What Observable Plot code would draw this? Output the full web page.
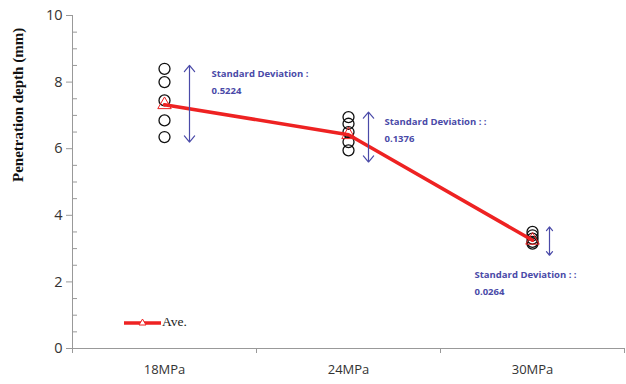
<!DOCTYPE html>
<html><head><meta charset="utf-8">
<script src="https://cdn.jsdelivr.net/npm/d3@7"></script>
<script src="https://cdn.jsdelivr.net/npm/@observablehq/plot@0.6"></script>
<style>
body{margin:0;background:#fff;}
#wrap{position:relative;width:626px;height:384px;}
#legend{position:absolute;left:124px;top:314px;font-family:"Liberation Serif",serif;font-size:13.5px;color:#222;display:flex;align-items:center;}
</style>
</head><body>
<div id="wrap"><div id="chart"></div>
<div id="legend"><svg width="38" height="14"><line x1="0" y1="8" x2="37" y2="8" stroke="#ee2222" stroke-width="3.5"/><path d="M18.5,4 L22,10 L15,10 Z" fill="white" stroke="#ee2222" stroke-width="1"/></svg><span>Ave.</span></div>
</div>
<script>
const categories = ["18MPa", "24MPa", "30MPa"];
const samples18 = [8.4, 8.0, 7.45, 6.85, 6.35];
const samples24 = [6.95, 6.75, 6.5, 6.2, 5.95];
const samples30 = [3.5, 3.4, 3.3, 3.2, 3.15];
const averages = [7.32, 6.42, 3.25];
const stdDevs = ["0.5224", "0.1376", "0.0264"];
const sdTitles = ["Standard Deviation :", "Standard Deviation : :", "Standard Deviation : :"];
const arrowTop = [8.5, 7.1, 3.65];
const arrowBottom = [6.2, 5.6, 2.8];
const yTicks = [0, 2, 4, 6, 8, 10];

const xPos = i => i + 0.5;
const samples = [samples18, samples24, samples30];
const dots = samples.flatMap((arr, i) => arr.map(v => ({x: xPos(i), y: v})));
const aves = averages.map((v, i) => ({x: xPos(i), y: v}));
const arrows = categories.map((c, i) => ({x: xPos(i), top: arrowTop[i], bot: arrowBottom[i], mid: (arrowTop[i] + arrowBottom[i]) / 2}));
const minor = d3.range(0, 10.01, 0.5).filter(v => v % 2 !== 0);
const bounds = d3.range(0, categories.length + 1);

const blue = "#4a4aa8";
const arrowDx = [25, 20, 17];
const textDx = [47, 36, -58];
const textAnchorY = [arrowTop[0], arrowTop[1], arrowBottom[2]];
const textDy = [15, 16, 26];

const plot = Plot.plot({
  width: 626, height: 384,
  marginLeft: 72, marginRight: 2, marginTop: 15, marginBottom: 36,
  x: {type: "linear", domain: [0, categories.length], axis: null},
  y: {domain: [0, 10], axis: null},
  style: {background: "white", overflow: "visible"},
  marks: [
    Plot.ruleY([0], {stroke: "#999", strokeWidth: 1}),
    Plot.ruleX([0], {stroke: "#999", strokeWidth: 1}),
    Plot.axisY({ticks: yTicks, tickSize: 6, tickPadding: 4, stroke: "#999", fontSize: 14.5, color: "#333", fontFamily: "Open Sans, sans-serif", label: null}),
    Plot.axisY({ticks: minor, tickSize: -5, tickFormat: () => "", stroke: "#999", label: null}),
    Plot.axisX({ticks: bounds, tickSize: 5, tickFormat: () => "", stroke: "#999", label: null}),
    Plot.text(categories, {x: (d, i) => xPos(i), text: d => d, frameAnchor: "bottom", dy: 25, fontSize: 13, fill: "#333", fontFamily: "Open Sans, sans-serif"}),
    Plot.text([0], {frameAnchor: "left", text: () => "Penetration depth (mm)", rotate: -90, dx: -54, fontFamily: "Liberation Serif, serif", fontWeight: "bold", fontSize: 15, fill: "#111"}),
    Plot.dot(dots, {x: "x", y: "y", r: 5.5, stroke: "#111", strokeWidth: 1.3, fill: "none"}),
    Plot.line(aves, {x: "x", y: "y", stroke: "#ee2222", strokeWidth: 3.5}),
    Plot.dot(aves, {x: "x", y: "y", symbol: "triangle", r: 5, stroke: "#ee2222", strokeWidth: 1, fill: "none"}),
    ...arrows.flatMap((a, i) => [
      Plot.arrow([a], {x1: "x", x2: "x", y1: "mid", y2: "top", dx: arrowDx[i], stroke: blue, strokeWidth: 1.2, headLength: 10, headAngle: 80}),
      Plot.arrow([a], {x1: "x", x2: "x", y1: "mid", y2: "bot", dx: arrowDx[i], stroke: blue, strokeWidth: 1.2, headLength: 10, headAngle: 80}),
      Plot.text([a], {x: "x", y: () => textAnchorY[i], dx: textDx[i], dy: textDy[i], text: () => sdTitles[i] + "\n" + stdDevs[i], textAnchor: "start", lineAnchor: "middle", lineHeight: 1.75, fontSize: 9.5, fontWeight: "bold", fill: blue, fontFamily: "Open Sans, sans-serif"})
    ])
  ]
});
document.getElementById("chart").appendChild(plot);
</script>
</body></html>
